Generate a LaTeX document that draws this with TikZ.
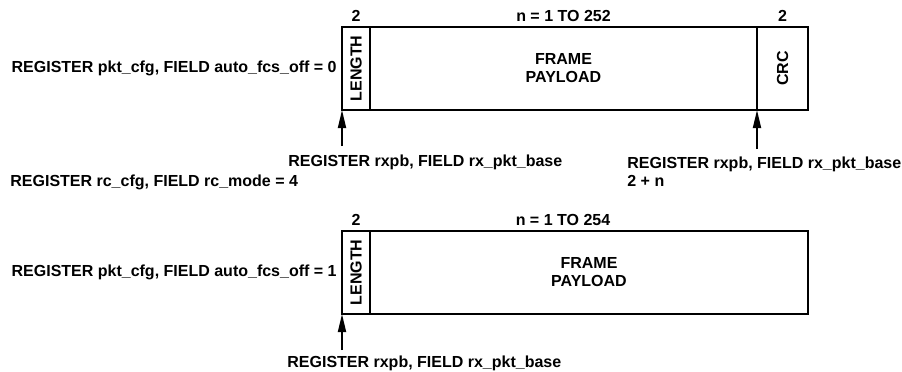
\documentclass[tikz,border=0pt]{standalone}
\usepackage{fontspec}
\setmainfont{Liberation Sans}
\usepackage{tikz}
\usetikzlibrary{positioning,arrows.meta}

\begin{document}
\begin{tikzpicture}[
  x=0.5pt, y=-0.5pt,
  every node/.style={font=\fontsize{8}{9}\selectfont\bfseries},
  field/.style={draw, line width=1pt, minimum height=41.5pt, inner sep=0pt, outer sep=0pt, align=center},
  size/.style={inner sep=0pt},
  reg/.style={inner sep=0pt, align=left},
  ptr/.style={-{Triangle[length=9pt,width=4pt]}, line width=0.9pt}
]
\useasboundingbox (0,0) rectangle (902,371);

% frame with CRC
\node[field, minimum width=14pt, anchor=north west] (len1) at (342,27) {\rotatebox{90}{LENGTH}};
\node[field, minimum width=193.5pt, right=0pt of len1] (pay1) {FRAME\\PAYLOAD};
\node[field, minimum width=25.5pt, right=0pt of pay1] (crc1) {\rotatebox{90}{CRC}};

\node[size, above=2.5pt of len1] (w1) {2};
\node[size, above=2.5pt of pay1] (n1) {n = 1 TO 252};
\node[size, above=2.5pt of crc1] (w2) {2};

\node[reg, left=2.5pt of len1] (cfg1) {REGISTER pkt\_cfg, FIELD auto\_fcs\_off = 0};

\coordinate (t1) at (342,146);
\coordinate (t2) at (757,149);
\draw[ptr] (t1) -- (len1.south west);
\draw[ptr] (t2) -- (crc1.south west);

\node[reg, anchor=north west] (base1) at (288,154) {REGISTER rxpb, FIELD rx\_pkt\_base};
\node[reg, anchor=north west] (base2) at (627,156) {REGISTER rxpb, FIELD rx\_pkt\_base\\2 + n};

\node[reg, anchor=north west] (mode) at (10,174) {REGISTER rc\_cfg, FIELD rc\_mode = 4};

% frame without CRC
\node[field, minimum width=14pt, anchor=north west] (len2) at (342,231) {\rotatebox{90}{LENGTH}};
\node[field, minimum width=219pt, right=0pt of len2] (pay2) {FRAME\\PAYLOAD};

\node[size, above=2.5pt of len2] (w3) {2};
\node[size, anchor=south] (n2) at (563,226) {n = 1 TO 254};

\node[reg, left=2.5pt of len2] (cfg2) {REGISTER pkt\_cfg, FIELD auto\_fcs\_off = 1};

\coordinate (t3) at (342,350);
\draw[ptr] (t3) -- (len2.south west);

\node[reg, anchor=north west] (base3) at (287,355) {REGISTER rxpb, FIELD rx\_pkt\_base};
\end{tikzpicture}
\end{document}
